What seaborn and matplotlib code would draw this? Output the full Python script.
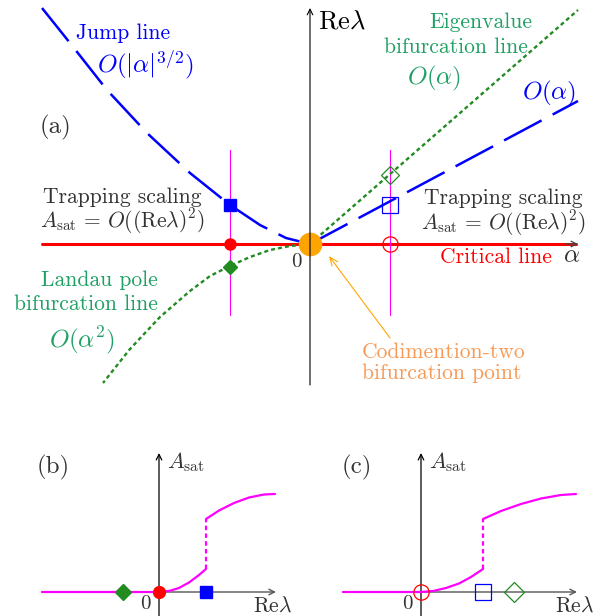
import matplotlib
matplotlib.use("Agg")
import matplotlib.pyplot as plt
import seaborn as sns

# ---- data (units = screen pixels from each origin) ----
# panel (a): alpha vs Re(lambda)
jump_left_x = [-268, -240, -203, -163, -120, -80, -50, -24, 0]
jump_left_y = [236, 201, 154, 111, 71, 39, 19, 6, 0]
jump_right_x = [0, 268]
jump_right_y = [0, 143]
eig_x = [0, 268]
eig_y = [0, 234]
landau_x = [0, -20, -40, -60, -80, -100, -120, -150, -180, -207]
landau_y = [0, -2, -6, -13, -22, -32, -47, -73, -105, -139]
cut_x = [-80, 80]
cut_y = [94, -71]

# panel (b)
b_flat_x = [-117, 0]
b_rise_x = [0, 10, 20, 30, 40, 47]
b_rise_y = [0, 1, 4, 9.5, 17, 23]
b_jump_x = [47, 47]
b_jump_y = [23, 73]
b_up_x = [47, 60, 75, 90, 105, 116]
b_up_y = [73, 81.5, 89, 94.5, 97.5, 98]

# panel (c)
c_flat_x = [-78, 0]
c_rise_x = [0, 12, 25, 38, 50, 62]
c_rise_y = [0, 1, 4, 8.5, 15, 23]
c_jump_x = [62, 62]
c_jump_y = [23, 73]
c_up_x = [62, 80, 100, 120, 140, 155]
c_up_y = [73, 81, 88, 93.5, 97, 98]

BLUE = "#0000ff"
RED = "#ff0000"
GREEN = "#228b22"
GTEXT = "#1fa064"
MAG = "#ff00ff"
ORANGE = "#ffa500"
OTEXT = "#f79a55"
DARK = "#333333"

TXT = 15.5   # plain text labels
BIG = 18     # O(...) and panel labels

sns.set_style("white")
plt.rcParams["font.family"] = ["cmr10", "DejaVu Serif"]
plt.rcParams["mathtext.fontset"] = "cm"
plt.rcParams["axes.unicode_minus"] = False

fig = plt.figure(figsize=(5.97, 6.16), dpi=100)

ax = fig.add_axes([0, 0, 1, 1])
ax.set_xlim(-310, 287)
ax.set_ylim(-372, 244)
ax.axis("off")


def line(a, x, y, **kw):
    sns.lineplot(x=x, y=y, ax=a, sort=False, estimator=None, legend=False, **kw)


# panel (a) axes
ax.annotate("", xy=(0, 236), xytext=(0, -141),
            arrowprops=dict(arrowstyle="->", color="black", lw=0.8, shrinkA=0, shrinkB=0))
line(ax, [-268, 266], [0, 0], color=RED, lw=2.2)
ax.annotate("", xy=(268, 0), xytext=(255, 0),
            arrowprops=dict(arrowstyle="->", color="#444444", lw=0.9, shrinkA=0, shrinkB=0))

for xc in cut_x:
    line(ax, [xc, xc], cut_y, color=MAG, lw=0.8)

dash_long = (0, (17, 5))
line(ax, jump_left_x, jump_left_y, color=BLUE, lw=1.8, linestyle=dash_long)
line(ax, jump_right_x, jump_right_y, color=BLUE, lw=1.8, linestyle=dash_long)
dot = (0, (1.7, 1.3))
line(ax, eig_x, eig_y, color=GREEN, lw=1.7, linestyle=dot)
line(ax, landau_x, landau_y, color=GREEN, lw=1.7, linestyle=dot)

# markers (a)
ax.plot(-80, 39, "s", color=BLUE, ms=8.5)
ax.plot(-80, 0, "o", color=RED, ms=8)
ax.plot(-80, -23, "D", color=GREEN, ms=7)
ax.plot(80, 0, "o", mfc="none", mec=RED, ms=11, mew=0.9)
ax.plot(80, 39, "s", mfc="none", mec=BLUE, ms=11, mew=0.9)
ax.plot(80, 69, "D", mfc="none", mec=GREEN, ms=9.5, mew=0.9)
ax.plot(0, 0, "o", color=ORANGE, ms=16)

ax.annotate("", xy=(19, -12), xytext=(80, -94),
            arrowprops=dict(arrowstyle="->,head_length=0.6,head_width=0.25",
                            color=ORANGE, lw=0.8, shrinkA=0, shrinkB=0))

# texts (a)
ax.text(-234, 211, "Jump line", color=BLUE, fontsize=TXT, ha="left", va="center")
ax.text(-213, 179, r"$O(|\alpha|^{3/2})$", color=BLUE, fontsize=BIG, ha="left", va="center")
ax.text(-255, 117, "(a)", color=DARK, fontsize=BIG, ha="center", va="center")
ax.text(8, 222, r"$\mathrm{Re}\lambda$", color="black", fontsize=19, ha="left", va="center")
ax.text(222, 222, "Eigenvalue", color=GTEXT, fontsize=TXT, ha="right", va="center")
ax.text(218, 197, "bifurcation line", color=GTEXT, fontsize=TXT, ha="right", va="center")
ax.text(124, 166, r"$O(\alpha)$", color=GTEXT, fontsize=BIG, ha="center", va="center")
ax.text(239, 151, r"$O(\alpha)$", color=BLUE, fontsize=BIG, ha="center", va="center")

for xc, dy in [(-188, 0), (193, -1)]:
    ax.text(xc, 41 + dy, "Trapping scaling", color=DARK, fontsize=TXT, ha="center", va="baseline")
    ax.text(xc, 16 + dy, r"$A_{\mathrm{sat}}\,=\,O((\mathrm{Re}\lambda)^2)$", color=DARK,
            fontsize=TXT, ha="center", va="baseline")

ax.text(-14, -18, "0", color=DARK, fontsize=15, ha="center", va="center")
ax.text(186, -13, "Critical line", color=RED, fontsize=TXT, ha="center", va="center")
ax.text(262, -12, r"$\alpha$", color=DARK, fontsize=BIG, ha="center", va="center")
ax.text(-152, -36, "Landau pole", color=GTEXT, fontsize=TXT, ha="right", va="center")
ax.text(-152, -60, "bifurcation line", color=GTEXT, fontsize=TXT, ha="right", va="center")
ax.text(-228, -96, r"$O(\alpha^2)$", color=GTEXT, fontsize=BIG, ha="center", va="center")
ax.text(52, -108, "Codimention-two", color=OTEXT, fontsize=TXT, ha="left", va="center")
ax.text(52, -129, "bifurcation point", color=OTEXT, fontsize=TXT, ha="left", va="center")

# panels (b) and (c)
axb = fig.add_axes([0, 0, 298 / 597, 176 / 616])
axb.set_xlim(-159, 139)
axb.set_ylim(-24, 152)
axc = fig.add_axes([300 / 597, 0, 297 / 597, 176 / 616])
axc.set_xlim(-121, 176)
axc.set_ylim(-24, 152)

panels = [
    (axb, "(b)", -106, -117, 117, b_flat_x, b_rise_x, b_rise_y, b_jump_x, b_jump_y, b_up_x, b_up_y),
    (axc, "(c)", -64, -78, 156, c_flat_x, c_rise_x, c_rise_y, c_jump_x, c_jump_y, c_up_x, c_up_y),
]
for a, lab, lx, x0, x1, fx, rx, ry, jx, jy, ux, uy in panels:
    a.axis("off")
    a.annotate("", xy=(x1, 0), xytext=(x0, 0),
               arrowprops=dict(arrowstyle="->", color="#555555", lw=1.0, shrinkA=0, shrinkB=0))
    a.annotate("", xy=(0, 139), xytext=(0, -24),
               arrowprops=dict(arrowstyle="->", color="black", lw=0.9, shrinkA=0, shrinkB=0))
    line(a, fx, [0, 0], color=MAG, lw=1.6, zorder=3)
    line(a, rx, ry, color=MAG, lw=1.6, zorder=3)
    line(a, jx, jy, color=MAG, lw=1.6, linestyle=(0, (2, 1.5)), zorder=3)
    line(a, ux, uy, color=MAG, lw=1.6, zorder=3)
    a.text(lx, 125, lab, color=DARK, fontsize=BIG, ha="center", va="center")
    a.text(8, 130, r"$A_{\mathrm{sat}}$", color=DARK, fontsize=16, ha="left", va="center")
    a.text(-14, -12, "0", color=DARK, fontsize=15, ha="center", va="center")

axb.text(114, -14, r"$\mathrm{Re}\lambda$", color=DARK, fontsize=15.5, ha="center", va="center")
axc.text(154, -14, r"$\mathrm{Re}\lambda$", color=DARK, fontsize=15.5, ha="center", va="center")

# markers (b)
axb.plot(-36, 0, "D", color=GREEN, ms=8, zorder=4)
axb.plot(0, 0, "o", color=RED, ms=8.5, zorder=4)
axb.plot(47, 0, "s", color=BLUE, ms=8.5, zorder=4)
# markers (c)
axc.plot(0, 0, "o", mfc="none", mec=RED, ms=11, mew=0.9, zorder=4)
axc.plot(62, 0, "s", mfc="none", mec=BLUE, ms=11, mew=0.9, zorder=4)
axc.plot(93, 0, "D", mfc="none", mec=GREEN, ms=10, mew=0.9, zorder=4)

fig.savefig("out.png", dpi=100)
